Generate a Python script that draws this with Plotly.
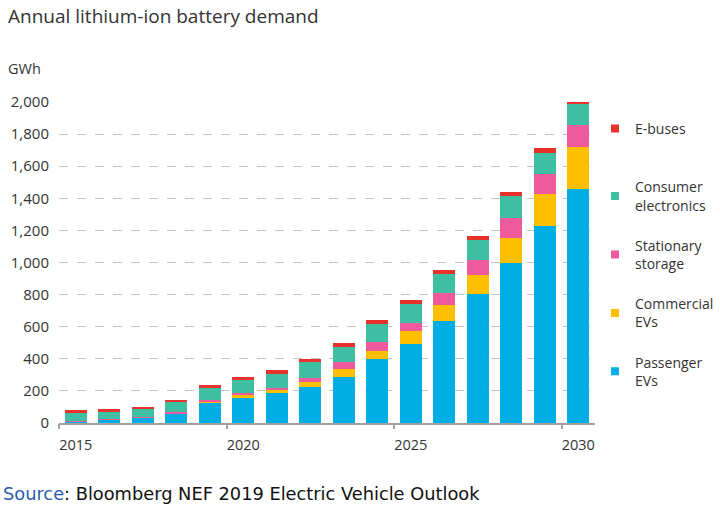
import plotly.graph_objects as go

years = list(range(2015, 2031))
passenger_evs = [8, 20, 33, 60, 126, 157, 184, 227, 288, 400, 495, 633, 802, 998, 1226, 1456]
commercial_evs = [1, 1, 1, 2, 3, 17, 19, 27, 46, 51, 77, 100, 123, 156, 201, 263]
stationary_storage = [1, 2, 2, 8, 17, 14, 16, 27, 45, 51, 50, 77, 89, 121, 123, 135]
consumer_electronics = [55, 47, 49, 58, 72, 83, 89, 97, 95, 114, 120, 121, 125, 139, 135, 137]
e_buses = [15, 15, 15, 17, 18, 18, 24, 22, 25, 25, 23, 25, 27, 27, 28, 12]

series = [
    ("Passenger<br>EVs", passenger_evs, "#00aee6"),
    ("Commercial<br>EVs", commercial_evs, "#fdbf00"),
    ("Stationary<br>storage", stationary_storage, "#ee5a9c"),
    ("Consumer<br>electronics", consumer_electronics, "#3fbfa2"),
    ("\u00a0<br>E-buses<br>\u00a0", e_buses, "#e8322c"),
]

x_tick_vals = [2015, 2020, 2025, 2030]
y_tick_vals = list(range(0, 2001, 200))

FONT = "Open Sans"
TXT = "#333333"

fig = go.Figure()
for name, vals, col in series:
    fig.add_trace(go.Bar(x=years, y=vals, name=name, marker=dict(color=col, line=dict(width=0)),
                         showlegend=False, legendgroup=name))

# legend entries (small square swatches), top to bottom
for name, vals, col in reversed(series):
    fig.add_trace(go.Scatter(x=[None], y=[None], mode="markers", name=name, legendgroup=name,
                             marker=dict(symbol="square", size=8, color=col), showlegend=True))

fig.update_layout(
    width=720, height=505,
    margin=dict(l=59, r=125, t=102, b=82, autoexpand=False),
    paper_bgcolor="white", plot_bgcolor="white",
    barmode="stack", bargap=0.34,
    font=dict(family=FONT, size=14, color=TXT),
    title=dict(text="Annual lithium-ion battery demand", x=8 / 720, xanchor="left",
               y=1 - 16 / 505, yanchor="middle", xref="container", yref="container",
               font=dict(family=FONT, size=19, color=TXT)),
    xaxis=dict(range=[2014.5, 2030.5], tickvals=x_tick_vals, ticks="", showgrid=False,
               showline=True, linecolor="#a0a0a0", linewidth=1.5, zeroline=False,
               ticklabelstandoff=8, tickfont=dict(size=14.5, color=TXT)),
    xaxis2=dict(range=[2014.5, 2030.5], overlaying="x", side="bottom",
                tickvals=[2014.5, 2019.5, 2024.5, 2029.5], ticks="outside", ticklen=5,
                tickcolor="#a0a0a0", tickwidth=1.5, showticklabels=False, showgrid=False,
                zeroline=False, showline=False),
    yaxis=dict(range=[0, 2000], tickvals=y_tick_vals, tickformat=",", showgrid=True,
               gridcolor="#c4c4c4", griddash="dash", gridwidth=1, zeroline=False,
               showline=False, ticks="", ticklabelstandoff=9, tickfont=dict(size=15, color=TXT)),
    legend=dict(x=1.0, xanchor="left", y=1.0225, yanchor="top", traceorder="grouped",
                tracegroupgap=19, itemsizing="trace", maxheight=450,
                font=dict(family=FONT, size=14, color=TXT),
                bgcolor="rgba(0,0,0,0)"),
    annotations=[
        dict(text="GWh", xref="paper", yref="paper", x=(6 - 59) / 536, y=(423 - 68) / 321,
             xanchor="left", yanchor="middle", showarrow=False,
             font=dict(family=FONT, size=14.5, color=TXT)),
        dict(text="<span style='color:#2a5db0'>Source</span>: Bloomberg NEF 2019 Electric Vehicle Outlook",
             xref="paper", yref="paper", x=(1 - 59) / 536, y=(423 - 493) / 321,
             xanchor="left", yanchor="middle", showarrow=False,
             font=dict(family="DejaVu Sans", size=17.8, color="#111111")),
    ],
)
# dummy trace to ensure xaxis2 is drawn
fig.add_trace(go.Scatter(x=[None], y=[None], xaxis="x2", showlegend=False, hoverinfo="skip"))

fig.write_html("out.html")
